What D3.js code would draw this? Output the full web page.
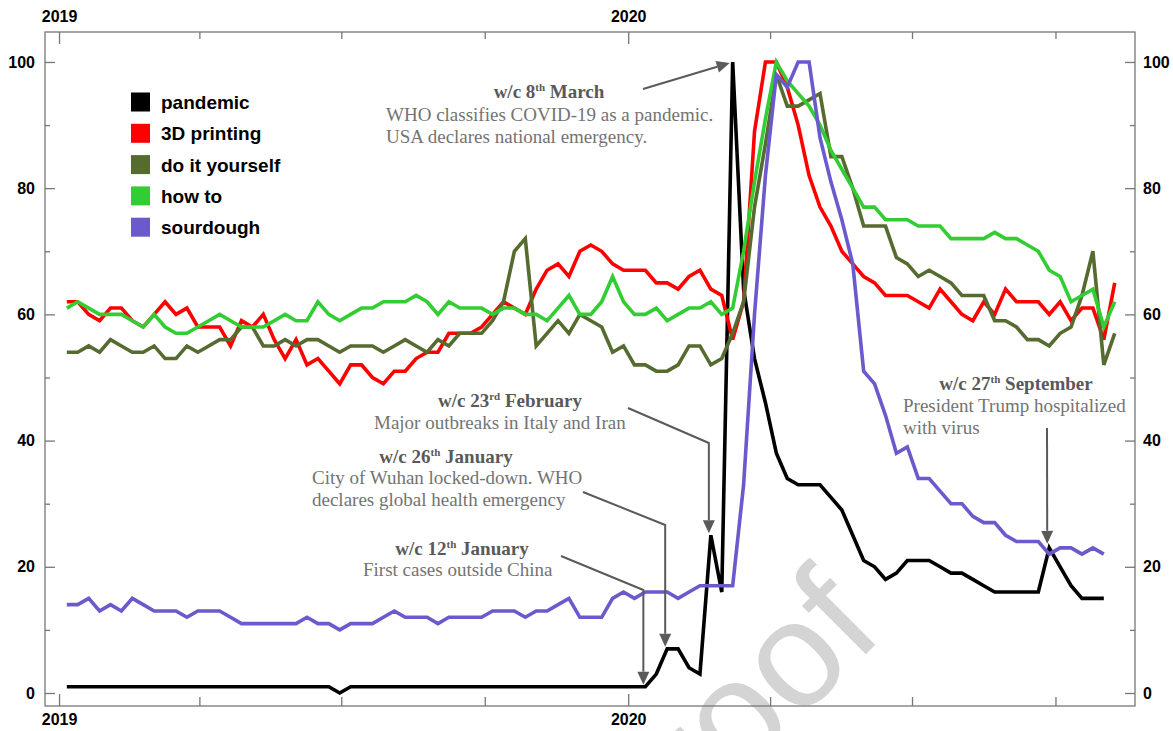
<!DOCTYPE html>
<html><head><meta charset="utf-8">
<script src="https://cdn.jsdelivr.net/npm/d3@7"></script>
<style>
body{margin:0;background:#fff;}
svg{display:block;}
</style></head><body>
<svg id="chart" width="1173" height="731"></svg>
<script>
// ---------- DATA ----------
const firstWeek = "2019-01-06"; // weekly points (w/c Sunday)
const seriesNames = ["pandemic", "3D printing", "do it yourself", "how to", "sourdough"];

const pandemic = [1,1,1,1,1,1,1,1,1,1,1,1,1,1,1,1,1,1,1,1,1,1,1,1,1,0,1,1,1,1,
  1,1,1,1,1,1,1,1,1,1,1,1,1,1,1,1,1,1,1,1,1,1,1,1,3,7,7,4,3,25,
  16,100,64,53,46,38,34,33,33,33,31,29,25,21,20,18,19,21,21,21,
  20,19,19,18,17,16,16,16,16,16,23,20,17,15,15,15];

const printing3d = [62,62,60,59,61,61,59,58,60,62,60,61,58,58,58,55,59,58,60,56,
  53,56,52,53,51,49,52,52,50,49,51,51,53,54,54,57,57,57,58,60,
  62,61,60,64,67,68,66,70,71,70,68,67,67,67,65,65,64,66,67,64,
  63,56,62,89,100,100,96,90,82,77,74,70,68,66,65,63,63,63,62,61,
  64,62,60,59,62,60,64,62,62,62,60,62,59,61,61,56,65];

const diy = [54,54,55,54,56,55,54,54,55,53,53,55,54,55,56,56,58,58,55,55,
  56,55,56,56,55,54,55,55,55,54,55,56,55,54,56,55,57,57,57,59,
  62,70,72,55,57,59,57,60,59,58,54,55,52,52,51,51,52,55,55,52,
  53,57,62,77,87,98,93,93,94,95,85,85,80,74,74,74,69,68,66,67,
  66,65,63,63,63,59,59,58,56,56,55,57,58,63,70,52,57];

const howTo = [61,62,61,60,60,60,59,58,60,58,57,57,58,59,60,59,58,58,58,59,
  60,59,59,62,60,59,60,61,61,62,62,62,63,62,60,62,61,61,61,60,
  61,61,60,60,59,61,63,60,60,62,66,62,60,60,61,59,60,61,61,62,
  60,61,70,81,91,100,97,95,93,90,86,83,80,77,77,75,75,75,74,74,
  74,72,72,72,72,73,72,72,71,70,67,66,62,63,64,58,62];

const sourdough = [14,14,15,13,14,13,15,14,13,13,13,12,13,13,13,12,11,11,11,11,
  11,11,12,11,11,10,11,11,11,12,13,12,12,12,11,12,12,12,12,13,
  13,13,12,13,13,14,15,12,12,12,15,16,15,16,16,16,15,16,17,17,
  17,17,33,60,82,98,96,100,100,88,81,75,68,51,49,44,38,39,34,34,
  32,30,30,28,27,27,25,24,24,24,22,23,23,22,23,22];

const yMajorTicks = [0, 20, 40, 60, 80, 100];
const yMinorTicks = [10, 30, 50, 70, 90];
const yearTicks = ["2019-01-01", "2020-01-01"];
const yearLabels = ["2019", "2020"];
const quarterTicks = ["2019-04-01", "2019-07-01", "2019-10-01", "2020-04-01", "2020-07-01", "2020-10-01"];

const annoDates = ["2020-01-12", "2020-01-26", "2020-02-23", "2020-03-08", "2020-09-27"];
const annoTitles = [["w/c 12", "th", " January"], ["w/c 26", "th", " January"], ["w/c 23", "rd", " February"], ["w/c 8", "th", " March"], ["w/c 27", "th", " September"]];
const annoLines = [
  ["First cases outside China"],
  ["City of Wuhan locked-down. WHO", "declares global health emergency"],
  ["Major outbreaks in Italy and Iran"],
  ["WHO classifies COVID-19 as a pandemic.", "USA declares national emergency."],
  ["President Trump hospitalized", "with virus"]
];
const watermark = "proof";

// ---------- LAYOUT / STYLE ----------
const colors = ["#000000", "#ff0000", "#556b2f", "#32cd32", "#6a5acd"];
const L = 45, R = 1135, T = 32, B = 706;
const annoLayout = [
  {titleX: 462, titleY: 555, bodyX: 363, bodyY: 576, start: [561, 556], bendY: 590, peak: false},
  {titleX: 446, titleY: 463, bodyX: 312, bodyY: 484, start: [583, 492], bendY: 525, peak: false},
  {titleX: 510, titleY: 407, bodyX: 374, bodyY: 429, start: [628, 408], bendY: 443, peak: false},
  {titleX: 549, titleY: 98, bodyX: 386, bodyY: 121, start: [643, 89], bendY: null, peak: true},
  {titleX: 1016, titleY: 390, bodyX: 903, bodyY: 412, start: [1047, 428], bendY: null, peak: false, vertical: true}
];

const svg = d3.select("#chart");
const parse = d3.utcParse("%Y-%m-%d");
const w0 = parse(firstWeek);
const weekDate = i => d3.utcDay.offset(w0, 7 * i);

const x = d3.scaleUtc().domain([parse("2018-12-23"), parse("2020-11-21")]).range([L, R]);
const y = d3.scaleLinear().domain([-2.06, 104.75]).range([B, T]);

// watermark (behind)
svg.append("text")
  .attr("transform", "translate(886,634) rotate(-45)")
  .attr("text-anchor", "end")
  .attr("font-family", "Liberation Sans, Arial, sans-serif")
  .attr("font-size", 150)
  .attr("fill", "#d4d4d4")
  .text(watermark);

// axes
const axisColor = "#777";
function styleAxis(g) {
  g.select(".domain").remove();
  g.selectAll(".tick line").attr("stroke", axisColor).attr("stroke-width", 1.3);
  g.selectAll("text").attr("font-family", "Liberation Sans, Arial, sans-serif")
    .attr("font-size", 16).attr("font-weight", "bold").attr("fill", "#000");
}
svg.append("g").attr("transform", `translate(${L},0)`)
  .call(d3.axisLeft(y).tickValues(yMajorTicks).tickSize(-10).tickPadding(10)).call(styleAxis);
svg.append("g").attr("transform", `translate(${L},0)`)
  .call(d3.axisLeft(y).tickValues(yMinorTicks).tickSize(-5).tickFormat("")).call(styleAxis);
svg.append("g").attr("transform", `translate(${R},0)`)
  .call(d3.axisRight(y).tickValues(yMajorTicks).tickSize(-10).tickPadding(8)).call(styleAxis);
svg.append("g").attr("transform", `translate(${R},0)`)
  .call(d3.axisRight(y).tickValues(yMinorTicks).tickSize(-5).tickFormat("")).call(styleAxis);

const years = yearTicks.map(parse);
const quarters = quarterTicks.map(parse);
const yearFmt = d => yearLabels[years.findIndex(v => +v === +d)];
svg.append("g").attr("transform", `translate(0,${T})`)
  .call(d3.axisTop(x).tickValues(years).tickSize(-12).tickPadding(10).tickFormat(yearFmt)).call(styleAxis);
svg.append("g").attr("transform", `translate(0,${T})`)
  .call(d3.axisTop(x).tickValues(quarters).tickSize(-7).tickFormat("")).call(styleAxis);
svg.append("g").attr("transform", `translate(0,${B})`)
  .call(d3.axisBottom(x).tickValues(years).tickSize(-12).tickPadding(8).tickFormat(yearFmt)).call(styleAxis);
svg.append("g").attr("transform", `translate(0,${B})`)
  .call(d3.axisBottom(x).tickValues(quarters).tickSize(-9).tickFormat("")).call(styleAxis);

// frame
svg.append("rect").attr("x", L).attr("y", T).attr("width", R - L).attr("height", B - T)
  .attr("fill", "none").attr("stroke", axisColor).attr("stroke-width", 1.3);

// lines
const allSeries = [pandemic, printing3d, diy, howTo, sourdough];
const line = d3.line().x((d, i) => x(weekDate(i))).y(d => y(d));
svg.append("g").selectAll("path").data(allSeries).join("path")
  .attr("d", line)
  .attr("fill", "none")
  .attr("stroke", (d, i) => colors[i])
  .attr("stroke-width", 3.6)
  .attr("stroke-linejoin", "miter")
  .attr("stroke-miterlimit", 3);

// legend
const lg = svg.append("g");
seriesNames.forEach((n, i) => {
  const cy = 102 + i * 31.3;
  lg.append("rect").attr("x", 131).attr("y", cy - 9.5).attr("width", 19).attr("height", 19)
    .attr("fill", colors[i]);
  lg.append("text").attr("x", 161).attr("y", cy + 7)
    .attr("font-family", "Liberation Sans, Arial, sans-serif").attr("font-size", 19)
    .attr("font-weight", "bold").attr("fill", "#000").text(n);
});

// annotations
const arrowColor = "#5a5a5a";
const ag = svg.append("g");
function drawArrow(pts) {
  const n = pts.length;
  const [tx, ty] = pts[n - 1], [px, py] = pts[n - 2];
  const dx = tx - px, dy = ty - py, len = Math.hypot(dx, dy);
  const ux = dx / len, uy = dy / len, hl = 13, hw = 6;
  const bx = tx - ux * hl, by = ty - uy * hl;
  const p = pts.slice(0, n - 1).concat([[bx, by]]);
  ag.append("path").attr("d", d3.line()(p)).attr("fill", "none")
    .attr("stroke", arrowColor).attr("stroke-width", 2);
  ag.append("path").attr("d", d3.line()([[tx, ty], [bx - uy * hw, by + ux * hw], [bx + uy * hw, by - ux * hw]]) + "Z")
    .attr("fill", arrowColor);
}
annoDates.forEach((ds, k) => {
  const lay = annoLayout[k];
  const dt = parse(ds);
  const idx = Math.round((dt - w0) / (7 * 864e5));
  const tx = x(dt), vy = y(pandemic[idx]);
  let pts;
  if (lay.peak) pts = [lay.start, [tx - 3, vy + 1]];
  else if (lay.vertical) pts = [lay.start, [tx - 2, vy - 4]];
  else pts = [lay.start, [tx - 2, lay.bendY], [tx - 2, vy - 2]];
  drawArrow(pts);

  const t = ag.append("text").attr("x", lay.titleX).attr("y", lay.titleY)
    .attr("text-anchor", "middle").attr("font-family", "Liberation Serif, Times New Roman, serif")
    .attr("font-size", 19).attr("font-weight", "bold").attr("fill", "#595959");
  const parts = annoTitles[k];
  t.append("tspan").text(parts[0]);
  t.append("tspan").attr("font-size", 11).attr("dy", -7).text(parts[1]);
  t.append("tspan").attr("font-size", 19).attr("dy", 7).text(parts[2]);
  annoLines[k].forEach((s, j) => {
    ag.append("text").attr("x", lay.bodyX).attr("y", lay.bodyY + j * 22)
      .attr("font-family", "Liberation Serif, Times New Roman, serif")
      .attr("font-size", 19).attr("fill", "#737373").text(s);
  });
});
</script>
</body></html>
